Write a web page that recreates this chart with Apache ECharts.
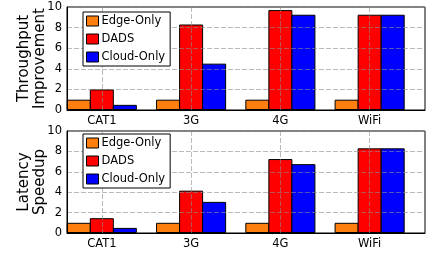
<!DOCTYPE html>
<html>
<head>
<meta charset="utf-8">
<script src="https://cdn.jsdelivr.net/npm/echarts@6/dist/echarts.min.js"></script>
<style>
html, body { margin: 0; padding: 0; background: #fff; }
#chart { width: 432px; height: 253px; }
</style>
</head>
<body>
<div id="chart"></div>
<script>
// 数据
var categories = ['CAT1', '3G', '4G', 'WiFi'];
var seriesNames = ['Edge-Only', 'DADS', 'Cloud-Only'];
var thrEdge = [1, 1, 1, 1];
var thrDads = [2.0, 8.3, 9.7, 9.25];
var thrCloud = [0.5, 4.5, 9.25, 9.25];
var latEdge = [1, 1, 1, 1];
var latDads = [1.45, 4.15, 7.25, 8.3];
var latCloud = [0.5, 3.05, 6.75, 8.3];

var colors = ['#ff7f0e', '#ff0000', '#0000ff'];
var font = 'DejaVu Sans';

function toPoints(arr) {
    return arr.map(function (v, i) { return [i, v]; });
}

function xAxisOf(idx) {
    return {
        type: 'value',
        gridIndex: idx,
        min: -0.39,
        max: 3.62,
        z: 3,
        axisLine: { onZero: false, lineStyle: { color: '#000', width: 1 } },
        axisTick: { show: false, customValues: [0, 1, 2, 3] },
        axisLabel: {
            customValues: [0, 1, 2, 3],
            formatter: function (v) { return categories[Math.round(v)]; },
            color: '#000', fontFamily: font, fontSize: 11.5, margin: 5
        },
        splitLine: {
            show: true,
            lineStyle: { color: 'rgba(140,140,140,0.6)', type: [5, 2], width: 1 }
        }
    };
}

function yAxisOf(idx, name) {
    return {
        type: 'value',
        gridIndex: idx,
        min: 0,
        max: 10,
        interval: 2,
        z: 3,
        name: name,
        nameLocation: 'middle',
        nameGap: 19,
        nameMoveOverlap: false,
        nameTextStyle: { fontFamily: font, fontSize: 15, color: '#000', lineHeight: 16 },
        axisLine: { show: true, onZero: false, lineStyle: { color: '#000', width: 1 } },
        axisTick: { show: false },
        axisLabel: { color: '#000', fontFamily: font, fontSize: 11.5, margin: 5 },
        splitLine: {
            show: true,
            lineStyle: { color: 'rgba(140,140,140,0.6)', type: [5, 2], width: 1 }
        }
    };
}

function barSeries(name, data, idx, color) {
    return {
        name: name,
        type: 'bar',
        xAxisIndex: idx,
        yAxisIndex: idx,
        data: toPoints(data),
        barWidth: 24,
        barGap: '-4%',
        itemStyle: { color: color, borderColor: '#000', borderWidth: 1 }
    };
}

function legendOf(top) {
    return {
        orient: 'vertical',
        left: 83,
        top: top,
        z: 10,
        data: seriesNames,
        itemWidth: 12,
        itemHeight: 10,
        itemGap: 6,
        padding: [3, 5, 3, 3],
        backgroundColor: '#fff',
        borderColor: '#000',
        borderWidth: 1,
        borderRadius: 0,
        icon: 'rect',
        itemStyle: { borderColor: '#000', borderWidth: 1 },
        textStyle: { fontFamily: font, fontSize: 11.5, color: '#000', padding: [0, 0, 0, -2] },
        selectedMode: false
    };
}

var option = {
    animation: false,
    backgroundColor: '#fff',
    color: colors,
    legend: [legendOf(12), legendOf(134)],
    grid: [
        { left: 67, top: 7, width: 358, height: 103, show: true, borderColor: '#000', borderWidth: 1, backgroundColor: 'transparent' },
        { left: 67, top: 131, width: 358, height: 102, show: true, borderColor: '#000', borderWidth: 1, backgroundColor: 'transparent' }
    ],
    xAxis: [xAxisOf(0), xAxisOf(1)],
    yAxis: [yAxisOf(0, 'Throughput\nImprovement'), yAxisOf(1, 'Latency\nSpeedup')],
    series: [
        barSeries(seriesNames[0], thrEdge, 0, colors[0]),
        barSeries(seriesNames[1], thrDads, 0, colors[1]),
        barSeries(seriesNames[2], thrCloud, 0, colors[2]),
        barSeries(seriesNames[0], latEdge, 1, colors[0]),
        barSeries(seriesNames[1], latDads, 1, colors[1]),
        barSeries(seriesNames[2], latCloud, 1, colors[2])
    ]
};

var chart = echarts.init(document.getElementById('chart'));
chart.setOption(option);
</script>
</body>
</html>
